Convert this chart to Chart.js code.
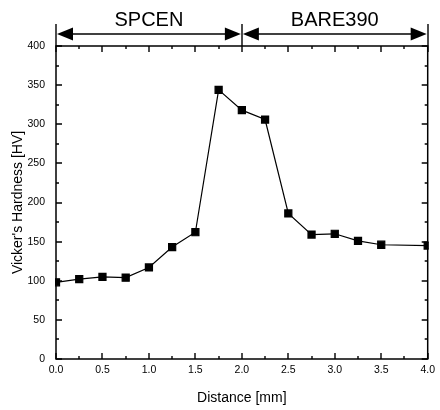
<!DOCTYPE html>
<html>
<head>
<meta charset="utf-8">
<script src="https://cdn.jsdelivr.net/npm/chart.js@4/dist/chart.umd.min.js"></script>
<style>
  html, body { margin: 0; padding: 0; background: #fff; }
  #wrap { width: 440px; height: 410px; position: relative; }
</style>
</head>
<body>
<div id="wrap"><canvas id="c" width="440" height="410"></canvas></div>
<script>
// ---- data ----
const distance = [0, 0.25, 0.5, 0.75, 1.0, 1.25, 1.5, 1.75, 2.0, 2.25, 2.5, 2.75, 3.0, 3.25, 3.5, 4.0];
const hardness = [98, 102, 105, 104, 117, 143, 162, 344, 318, 306, 186, 159, 160, 151, 146, 145];
const xTickLabels = ['0.0', '0.5', '1.0', '1.5', '2.0', '2.5', '3.0', '3.5', '4.0'];
const yTickLabels = ['0', '50', '100', '150', '200', '250', '300', '350', '400'];
const sectionBounds = [0, 2, 4];
const sectionNames = ['SPCEN', 'BARE390'];

const FONT = "'Liberation Sans', Arial, Helvetica, sans-serif";

const boxPlugin = {
  id: 'boxTicks',
  beforeDatasetsDraw(chart) {
    const { ctx, chartArea: a, scales } = chart;
    const xs = scales.x, ys = scales.y;
    ctx.save();
    ctx.strokeStyle = '#000';
    ctx.lineWidth = 1.5;
    ctx.strokeRect(a.left, a.top, a.right - a.left, a.bottom - a.top);
    ctx.lineWidth = 1.4;
    ctx.beginPath();
    const xt = xs.ticks.map(t => t.value);
    for (let i = 0; i < xt.length; i++) {
      const px = Math.round(xs.getPixelForValue(xt[i]));
      ctx.moveTo(px, a.bottom); ctx.lineTo(px, a.bottom - 6);
      ctx.moveTo(px, a.top); ctx.lineTo(px, a.top + 6);
      if (i < xt.length - 1) {
        const pm = Math.round(xs.getPixelForValue((xt[i] + xt[i + 1]) / 2));
        ctx.moveTo(pm, a.bottom); ctx.lineTo(pm, a.bottom - 3);
        ctx.moveTo(pm, a.top); ctx.lineTo(pm, a.top + 3);
      }
    }
    const yt = ys.ticks.map(t => t.value);
    for (let i = 0; i < yt.length; i++) {
      const py = Math.round(ys.getPixelForValue(yt[i]));
      ctx.moveTo(a.left, py); ctx.lineTo(a.left + 6, py);
      ctx.moveTo(a.right, py); ctx.lineTo(a.right - 6, py);
      if (i < yt.length - 1) {
        const pm = Math.round(ys.getPixelForValue((yt[i] + yt[i + 1]) / 2));
        ctx.moveTo(a.left, pm); ctx.lineTo(a.left + 3, pm);
        ctx.moveTo(a.right, pm); ctx.lineTo(a.right - 3, pm);
      }
    }
    ctx.stroke();
    ctx.restore();
  },
  afterDraw(chart) {
    const { ctx, chartArea: a, scales } = chart;
    const xs = scales.x;
    const yLine = 34, barTop = 24;
    const aw = 16, ah = 6.5;
    ctx.save();
    ctx.strokeStyle = '#000';
    ctx.fillStyle = '#000';
    ctx.lineWidth = 1.4;
    ctx.beginPath();
    sectionBounds.forEach(b => {
      const px = Math.round(xs.getPixelForValue(b));
      ctx.moveTo(px, barTop); ctx.lineTo(px, a.top);
    });
    ctx.stroke();
    for (let i = 0; i < sectionNames.length; i++) {
      const x0 = xs.getPixelForValue(sectionBounds[i]);
      const x1 = xs.getPixelForValue(sectionBounds[i + 1]);
      ctx.beginPath();
      ctx.moveTo(x0 + aw, yLine); ctx.lineTo(x1 - aw, yLine);
      ctx.stroke();
      ctx.beginPath();
      ctx.moveTo(x0 + 1, yLine); ctx.lineTo(x0 + 1 + aw, yLine - ah); ctx.lineTo(x0 + 1 + aw, yLine + ah); ctx.closePath();
      ctx.fill();
      ctx.beginPath();
      ctx.moveTo(x1 - 1, yLine); ctx.lineTo(x1 - 1 - aw, yLine - ah); ctx.lineTo(x1 - 1 - aw, yLine + ah); ctx.closePath();
      ctx.fill();
      ctx.font = '20px ' + FONT;
      ctx.textAlign = 'center';
      ctx.textBaseline = 'alphabetic';
      ctx.fillText(sectionNames[i], (x0 + x1) / 2, 26);
    }
    ctx.restore();
  }
};

new Chart(document.getElementById('c'), {
  type: 'scatter',
  data: {
    datasets: [{
      data: distance.map((d, i) => ({ x: d, y: hardness[i] })),
      showLine: true,
      borderColor: '#000',
      borderWidth: 1.2,
      backgroundColor: '#000',
      pointStyle: 'rect',
      pointRadius: 5,
      pointHoverRadius: 5,
      clip: 1
    }]
  },
  options: {
    responsive: false,
    animation: false,
    events: [],
    layout: { padding: { left: 0, top: 46, right: 10, bottom: 0 } },
    plugins: { legend: { display: false }, tooltip: { enabled: false } },
    scales: {
      x: {
        type: 'linear', min: 0, max: 4,
        afterBuildTicks: s => { s.ticks = xTickLabels.map(v => ({ value: parseFloat(v) })); },
        afterFit: s => { s.height = 51; },
        grid: { display: false, drawTicks: false },
        border: { display: false },
        ticks: {
          padding: 5, color: '#000',
          font: { family: FONT, size: 10.5 },
          callback: (v, i) => xTickLabels[i],
          maxRotation: 0, autoSkip: false
        },
        title: {
          display: true, text: 'Distance [mm]', color: '#000',
          font: { family: FONT, size: 14 },
          padding: { top: 0, bottom: 3 }
        }
      },
      y: {
        type: 'linear', min: 0, max: 400,
        afterBuildTicks: s => { s.ticks = yTickLabels.map(v => ({ value: parseFloat(v) })); },
        afterFit: s => { s.width = 56; },
        grid: { display: false, drawTicks: false },
        border: { display: false },
        ticks: {
          padding: 11, color: '#000',
          font: { family: FONT, size: 10.5 },
          callback: (v, i) => yTickLabels[i],
          autoSkip: false
        },
        title: {
          display: true, text: "Vicker's Hardness [HV]", color: '#000',
          font: { family: FONT, size: 14 },
          padding: { top: 10, bottom: 0 }
        }
      }
    }
  },
  plugins: [boxPlugin]
});
</script>
</body>
</html>
